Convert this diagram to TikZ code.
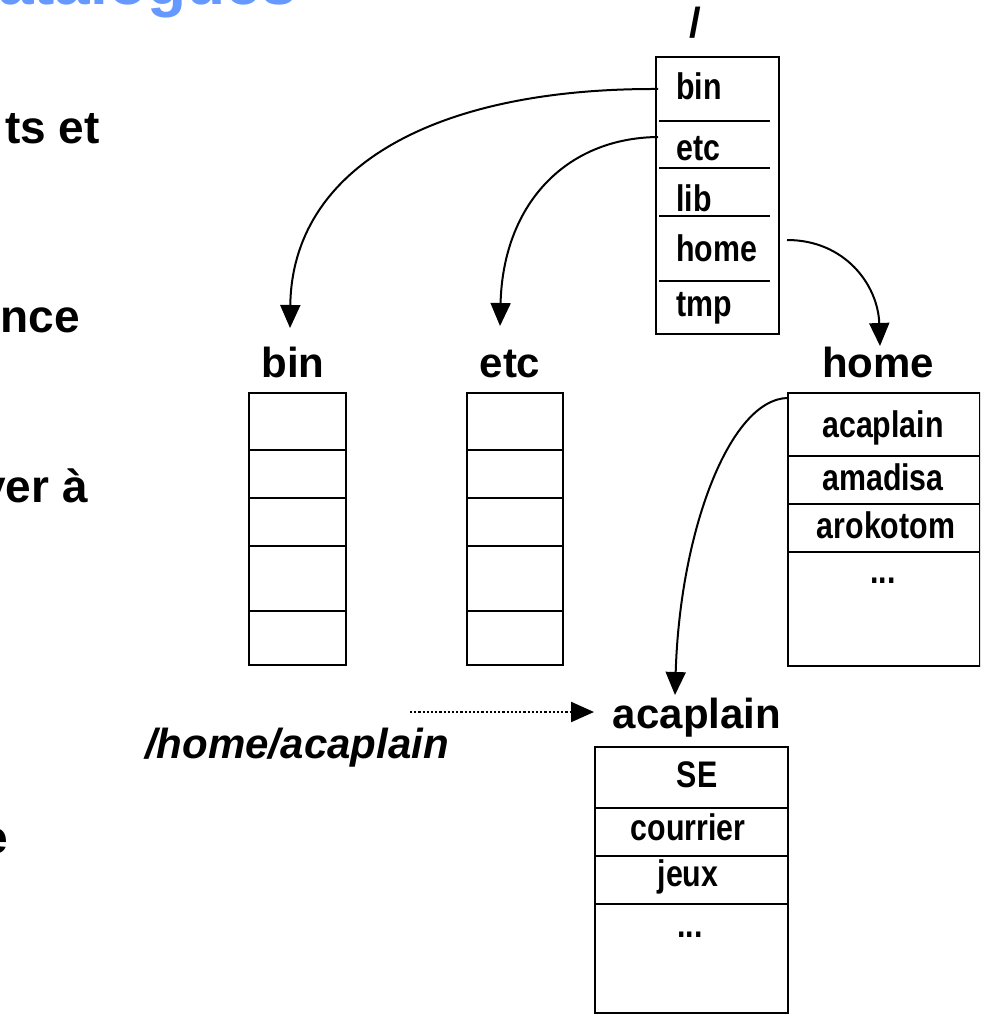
\documentclass[tikz,border=0pt]{standalone}
\usepackage{fontspec}
\setmainfont{Liberation Sans}
\newfontfamily\narrowf[FakeStretch=0.82]{Liberation Sans}
\usetikzlibrary{arrows.meta}
\definecolor{titleblue}{RGB}{102,153,255}
\begin{document}
\begin{tikzpicture}[x=1pt,y=-1pt,
  boxst/.style={draw, line width=2pt, inner sep=0pt, anchor=north west},
  sepst/.style={line width=2pt},
  lbl/.style={font=\fontsize{42}{48}\selectfont\bfseries, inner sep=0pt, anchor=base},
  entry/.style={font=\narrowf\bfseries\fontsize{37}{40}\selectfont, inner sep=0pt, anchor=base},
  lentry/.style={entry, anchor=base west},
  side/.style={font=\fontsize{46}{52}\selectfont\bfseries, inner sep=0pt, anchor=base east},
  arr/.style={line width=2pt, -{Triangle[length=23pt,width=20pt]}},
  dotarr/.style={line width=2.2pt, dash pattern=on 2.2pt off 2pt, -{Triangle[length=23pt,width=20pt]}}]
\useasboundingbox (0,0) rectangle (980,1014);
\begin{scope}
\clip (0,0) rectangle (980,1014);
% title (clipped at the top edge)
\node[font=\fontsize{64}{70}\selectfont\bfseries, text=titleblue, inner sep=0pt, anchor=base east] (title) at (297,5) {catalogues};
% left text fragments
\node[side] (t1) at (100,143) {ts et};
\node[side] (t2) at (80,332) {nce};
\node[side] (t3) at (88,502) {ver à};
\node[side] (t4) at (8,853) {e};

% root directory
\node[lbl] (rootlbl) at (695,38) {/};
\node[boxst, minimum width=123pt, minimum height=277pt] (root) at (655,56) {};
\foreach \y in {121,168,216,281} \draw[sepst] (659,\y) -- (770,\y);
\node[lentry] (rbin) at (676,100) {bin};
\node[lentry] (retc) at (676,160) {etc};
\node[lentry] (rlib) at (676,211) {lib};
\node[lentry] (rhome) at (676,261) {home};
\node[lentry] (rtmp) at (676,316) {tmp};

% bin directory
\node[lbl] (binlbl) at (293,377) {bin};
\node[boxst, minimum width=97pt, minimum height=272pt] (binbox) at (248,392) {};
\foreach \y in {450,498,546,611} \draw[sepst] (248,\y) -- (345,\y);

% etc directory
\node[lbl] (etclbl) at (510,377) {etc};
\node[boxst, minimum width=96pt, minimum height=272pt] (etcbox) at (466,392) {};
\foreach \y in {450,498,546,611} \draw[sepst] (466,\y) -- (562,\y);

% home directory
\node[lbl] (homelbl) at (878,377) {home};
\node[boxst, minimum width=192pt, minimum height=273pt] (homebox) at (787,392) {};
\foreach \y in {456,504,552} \draw[sepst] (787,\y) -- (979,\y);
\node[entry] (hacap) at (883,437) {acaplain};
\node[entry] (hamad) at (883,490) {amadisa};
\node[entry] (harok) at (886,538) {arokotom};
\node[entry] (hdots) at (883,583) {...};

% acaplain directory
\node[lbl] (acaplbl) at (697,728) {acaplain};
\node[boxst, minimum width=193pt, minimum height=266pt] (acapbox) at (594,746) {};
\foreach \y in {808,856,904} \draw[sepst] (594,\y) -- (787,\y);
\node[entry] (ase) at (697,787) {SE};
\node[entry] (acour) at (688,840) {courrier};
\node[entry] (ajeux) at (688,886) {jeux};
\node[entry] (adots) at (690,937) {...};

% path label
\node[font=\fontsize{42}{48}\selectfont\bfseries\itshape, inner sep=0pt, anchor=base] (path) at (297,758) {/home/acaplain};

% connector endpoints
\coordinate (sbin) at (658,89);
\coordinate (setc) at (658,137);
\coordinate (shome) at (787,240);
\coordinate (sacap) at (787,398);
\coordinate (tbin) at (290,328);
\coordinate (tetc) at (500,326);
\coordinate (thome) at (880,346);
\coordinate (tacap) at (675,695);
\coordinate (sdot) at (410,712);
\coordinate (tdot) at (594,712);

\draw[arr] (sbin) .. controls (430,88) and (292,170) .. (tbin);
\draw[arr] (setc) .. controls (565,138) and (503,205) .. (tetc);
\draw[arr] (shome) .. controls (845,240) and (878,285) .. (thome);
\draw[arr] (sacap) .. controls (730,400) and (680,530) .. (tacap);
\draw[dotarr] (sdot) -- (tdot);
\end{scope}
\end{tikzpicture}
\end{document}
